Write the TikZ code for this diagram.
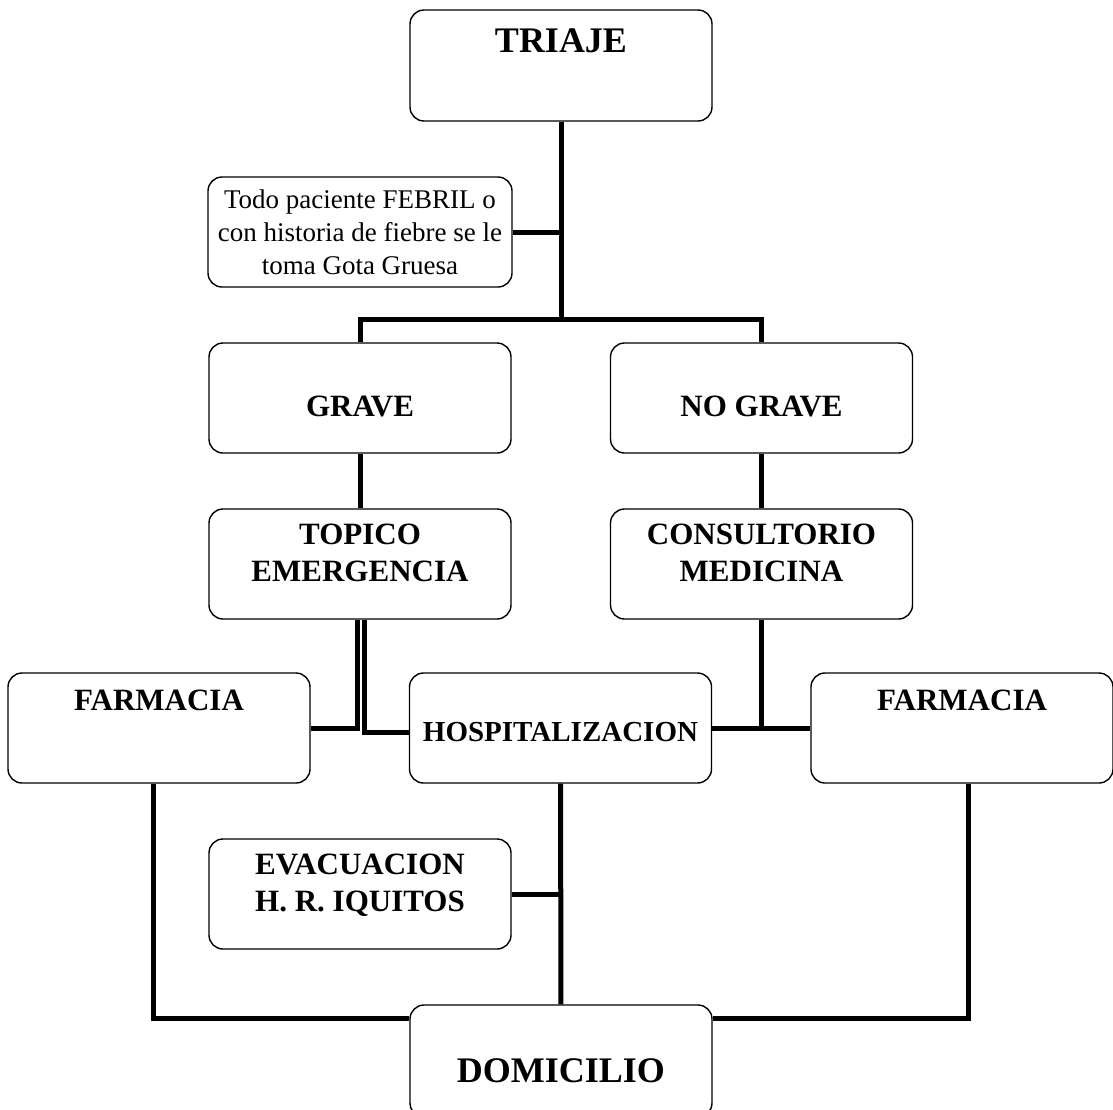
\documentclass[tikz,border=0pt]{standalone}
\usepackage{fontspec}
\setmainfont{Liberation Serif}
\usetikzlibrary{positioning}

\begin{document}
\begin{tikzpicture}[x=1pt, y=-1pt, node distance={54.6pt and 98.1pt},
    box/.style={draw=black, line width=1.4pt, rounded corners=14pt,
                minimum width=302pt, minimum height=110pt, inner sep=0pt,
                align=center, font=\fontsize{31}{37}\selectfont\bfseries},
    link/.style={line width=5pt}]
  \useasboundingbox (0,0) rectangle (1113,1109);
  \node[box, minimum height=111pt, text height=24pt, text depth=51pt,
        font=\fontsize{36}{43}\selectfont\bfseries] (triaje) at (561,65.5) {TRIAJE};
  \node[box, text height=36.5pt, text depth=0pt] (grave) at (360,398) {GRAVE};
  \node[box, above=of grave, minimum width=304pt,
        font=\fontsize{27}{33}\selectfont] (febril)
       {Todo paciente FEBRIL o\\con historia de fiebre se le\\toma Gota Gruesa};
  \node[box, right=of grave, text height=36.5pt, text depth=0pt] (nograve) {NO GRAVE};
  \node[box, below=of grave] (topico)
       {TOPICO\\EMERGENCIA\rule[-22pt]{0pt}{22pt}};
  \node[box, below=of nograve] (consultorio)
       {CONSULTORIO\\MEDICINA\rule[-22pt]{0pt}{22pt}};
  \node[box, text height=21pt, text depth=56pt] (farmL) at (159,728) {FARMACIA};
  \node[box, right=of farmL, text height=27pt, text depth=0pt,
        font=\fontsize{29}{35}\selectfont\bfseries] (hosp) {HOSPITALIZACION};
  \node[box, right=of hosp, text height=21pt, text depth=56pt] (farmR) {FARMACIA};
  \node[box] (evac) at (360,894) {EVACUACION\\H. R. IQUITOS\rule[-22pt]{0pt}{22pt}};
  \node[box, minimum height=112pt, text height=42pt, text depth=0pt,
        font=\fontsize{36}{43}\selectfont\bfseries] (domicilio) at (561,1061) {DOMICILIO};
  % connectors
  \coordinate (hub) at (561,319);
  \draw[link] (triaje.south) -- (hub);
  \draw[link] (grave.north) |- (hub) -| (nograve.north);
  \draw[link] (febril.east) -- (febril.east -| hub);
  \draw[link] (grave) -- (topico);
  \draw[link] (nograve) -- (consultorio);
  \draw[link] ([xshift=-3pt]topico.south) |- (farmL.east);
  \draw[link] ([xshift=4.5pt]topico.south) |- ([yshift=-4pt]hosp.west);
  \draw[link] (consultorio.south) -- (consultorio.south |- hosp.east);
  \draw[link] (hosp.east) -- (farmR.west);
  \draw[link] (hosp) -- (domicilio);
  \draw[link] (evac.east) -- (evac.east -| hosp.south);
  \draw[link] ([xshift=-6pt]farmL.south) |- ([yshift=-14pt]domicilio.north west);
  \draw[link] ([xshift=6pt]farmR.south) |- ([yshift=-14pt]domicilio.north east);
\end{tikzpicture}
\end{document}
